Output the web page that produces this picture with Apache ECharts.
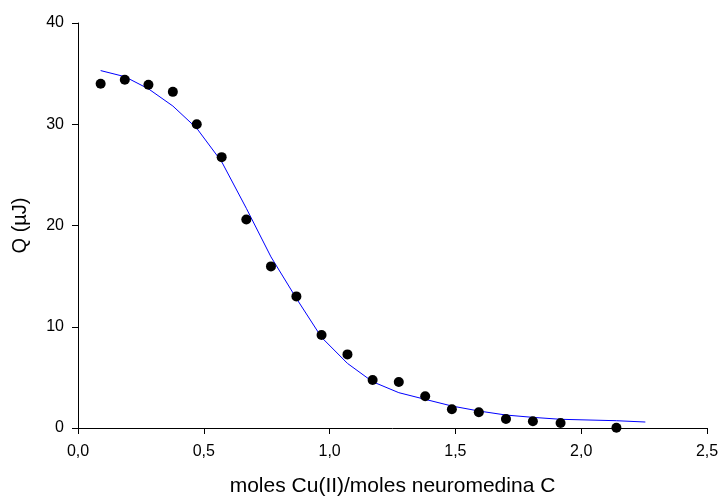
<!DOCTYPE html>
<html>
<head>
<meta charset="utf-8">
<script src="https://cdn.jsdelivr.net/npm/echarts@6/dist/echarts.min.js"></script>
<style>html,body{margin:0;padding:0;background:#fff}#c{width:720px;height:496px}</style>
</head>
<body>
<div id="c"></div>
<script>
var pointX = [0.090,0.186,0.280,0.377,0.472,0.571,0.669,0.767,0.868,0.968,1.071,1.171,1.275,1.380,1.486,1.593,1.701,1.808,1.918,2.140];
var pointQ = [34.0,34.4,33.9,33.2,30.0,26.75,20.6,15.96,13.0,9.18,7.27,4.74,4.54,3.13,1.85,1.55,0.89,0.66,0.49,0.03];
var fitX = [0.090,0.186,0.280,0.377,0.472,0.571,0.669,0.767,0.868,0.968,1.071,1.171,1.275,1.380,1.486,1.593,1.701,1.808,1.918,2.140,2.255];
var fitQ = [35.3,34.7,33.5,31.8,29.6,26.3,21.7,16.9,12.8,8.95,6.38,4.57,3.49,2.83,2.17,1.68,1.28,1.05,0.86,0.72,0.59];
var xTitle = 'moles Cu(II)/moles neuromedina C';
var yTitle = 'Q (µJ)';

var font = 'Liberation Sans, Arial, sans-serif';
var chart = echarts.init(document.getElementById('c'), null, {renderer: 'canvas'});
chart.setOption({
  animation: false,
  backgroundColor: '#ffffff',
  grid: {left: 78, right: 13, top: 23, bottom: 68, containLabel: false, outerBoundsMode: 'none'},
  xAxis: {
    type: 'value', min: 0, max: 2.5, interval: 0.5,
    name: xTitle, nameLocation: 'middle', nameGap: 48,
    nameTextStyle: {fontFamily: font, fontSize: 21, color: '#000'},
    axisLine: {show: true, onZero: false, lineStyle: {color: '#000', width: 1}},
    axisTick: {show: true, inside: false, length: 6, lineStyle: {color: '#000'}},
    axisLabel: {fontFamily: font, fontSize: 16, color: '#000', margin: 16,
      formatter: function (v) { return v.toFixed(1).replace('.', ','); }},
    splitLine: {show: false}
  },
  yAxis: {
    type: 'value', min: 0, max: 40, interval: 10,
    name: yTitle, nameLocation: 'middle', nameGap: 48, nameRotate: 90,
    nameTextStyle: {fontFamily: font, fontSize: 20, color: '#000'},
    axisLine: {show: true, onZero: false, lineStyle: {color: '#000', width: 1}},
    axisTick: {show: true, inside: false, length: 6, lineStyle: {color: '#000'}},
    axisLabel: {fontFamily: font, fontSize: 16, color: '#000', margin: 14},
    splitLine: {show: false}
  },
  series: [
    {
      type: 'line',
      data: fitX.map(function (x, i) { return [x, fitQ[i]]; }),
      showSymbol: false, symbol: 'none',
      lineStyle: {color: '#0000ff', width: 1},
      z: 2
    },
    {
      type: 'scatter',
      data: pointX.map(function (x, i) { return [x, pointQ[i]]; }),
      symbol: 'circle', symbolSize: 10,
      itemStyle: {color: '#000', opacity: 1},
      z: 3
    }
  ]
});
</script>
</body>
</html>
